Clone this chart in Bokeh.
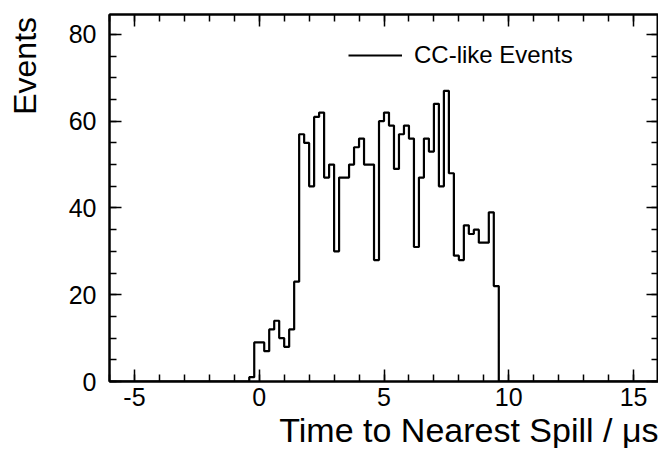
import numpy as np
from bokeh.plotting import figure
from bokeh.layouts import row
from bokeh.models import SingleIntervalTicker, LinearAxis, Title, Range1d, CustomJSTickFormatter
from bokeh.core.properties import value
from bokeh.embed import file_html
from bokeh.resources import INLINE

# Histogram data: bins of 0.2 us starting at -0.4 us
bin_start = -0.4
bin_width = 0.2
counts = [1, 9, 9, 7, 12, 14, 10, 8, 12, 23,
          57, 55, 45, 61, 62, 47, 50, 30, 47, 47,
          50, 54, 56, 50, 50, 28, 60, 62, 59, 49,
          57, 59, 56, 31, 47, 56, 53, 64, 45, 67,
          48, 29, 28, 36, 34, 35, 32, 32, 39, 22]
x_min, x_max = -6, 16
y_min, y_max = 0, 84.6
x_ticks_major = 5
y_ticks_major = 20
x_tick_labels = {-5: "-5", 0: "0", 5: "5", 10: "10", 15: "15"}
series_label = "CC-like Events"
x_title = "Time to Nearest Spill / μs"
y_title = "Events"

edges = bin_start + bin_width * np.arange(len(counts) + 1)
xs = [x_min] + list(edges) + [x_max]
ys = [0] + counts + [0, 0]

FONT = "Liberation Sans"
H = 448
LW = 62

# Narrow strip on the left that carries the vertical axis title
lp = figure(width=LW, height=H, output_backend="svg", toolbar_location=None,
            x_range=Range1d(0, LW), y_range=Range1d(H, 0),
            min_border=0, min_border_left=0, min_border_right=0,
            min_border_top=0, min_border_bottom=0,
            x_axis_location=None, y_axis_location=None)
lp.outline_line_color = None
lp.xgrid.visible = False
lp.ygrid.visible = False
lp.background_fill_color = "white"
lp.border_fill_color = "white"
lp.text(x=[24], y=[3], text=[y_title], angle=np.pi / 2, text_align="right",
        text_baseline="alphabetic", text_font=value(FONT), text_font_size=value("32px"),
        text_color="black")

p = figure(width=658 - LW, height=H, output_backend="svg", toolbar_location=None,
           x_range=Range1d(x_min, x_max), y_range=Range1d(y_min, y_max),
           min_border_left=109 - LW, min_border_right=0, min_border_top=14, min_border_bottom=10,
           x_axis_location=None, y_axis_location=None)
p.background_fill_color = "white"
p.border_fill_color = "white"
p.outline_line_color = "black"
p.outline_line_width = 2
p.xgrid.visible = False
p.ygrid.visible = False

empty = CustomJSTickFormatter(code="return '';")

def style_axis(ax, show_labels):
    ax.axis_line_color = "black"
    ax.axis_line_width = 2
    ax.major_tick_line_color = "black"
    ax.minor_tick_line_color = "black"
    ax.major_tick_line_width = 1.5
    ax.minor_tick_line_width = 1.5
    ax.major_tick_in = 12
    ax.major_tick_out = 0
    ax.minor_tick_in = 7
    ax.minor_tick_out = 0
    if show_labels:
        ax.major_label_text_font = FONT
        ax.major_label_text_font_size = "25px"
        ax.major_label_text_color = "black"
    else:
        ax.formatter = empty
        ax.major_label_standoff = 0

xb = LinearAxis(ticker=SingleIntervalTicker(interval=x_ticks_major, num_minor_ticks=5))
style_axis(xb, True)
xb.major_label_standoff = 6
xb.major_label_overrides = x_tick_labels
yl = LinearAxis(ticker=SingleIntervalTicker(interval=y_ticks_major, num_minor_ticks=4))
style_axis(yl, True)
yl.major_label_standoff = 13
xt = LinearAxis(ticker=SingleIntervalTicker(interval=x_ticks_major, num_minor_ticks=5))
style_axis(xt, False)
yr = LinearAxis(ticker=SingleIntervalTicker(interval=y_ticks_major, num_minor_ticks=4))
style_axis(yr, False)

p.add_layout(xb, "below")
p.add_layout(yl, "left")
p.add_layout(xt, "above")
p.add_layout(yr, "right")

p.add_layout(Title(text=x_title, align="right", text_font=FONT, text_font_size="34px",
                   text_font_style="normal", text_color="black", standoff=0), "below")

p.step(xs, ys, mode="after", line_color="black", line_width=2.2, legend_label=series_label)

lg = p.legend[0]
lg.location = (239, 312)
lg.border_line_color = None
lg.background_fill_alpha = 0
lg.padding = 0
lg.margin = 0
lg.glyph_width = 54
lg.label_standoff = 12
lg.label_text_font = FONT
lg.label_text_font_size = "24px"
lg.label_text_color = "black"

layout = row(lp, p, spacing=0)
open("out.html", "w").write(file_html(layout, INLINE))
